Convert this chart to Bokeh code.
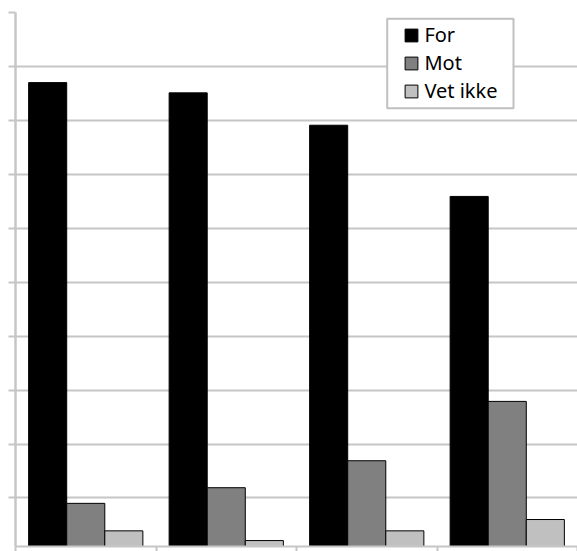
from bokeh.plotting import figure
from bokeh.models import (Range1d, FixedTicker, Legend, LegendItem, BoxAnnotation,
                          ColumnDataSource, CustomLabelingPolicy)
from bokeh.embed import file_html
from bokeh.resources import INLINE

# ---- data ----
category_index = [0, 1, 2, 3]
series_names = ["For", "Mot", "Vet ikke"]
for_vals = [86.0, 84.1, 78.1, 64.9]
mot_vals = [8.0, 10.9, 15.9, 26.9]
vet_vals = [2.9, 1.1, 2.9, 5.0]
grid_ticks = [9, 19, 29, 39, 49, 59, 69, 79, 89, 99]
category_edges = [0, 1, 2, 3, 4]

series_values = [for_vals, mot_vals, vet_vals]
series_colors = ["#000000", "#808080", "#c0c0c0"]
offsets = [-0.271, 0.0, 0.271]
bar_w = 0.271

GRID = "#c6c6c6"

p = figure(width=577, height=551, output_backend="svg", toolbar_location=None,
           x_range=Range1d(0, 4), y_range=Range1d(0, 99),
           min_border_left=15, min_border_top=12, min_border_right=0, min_border_bottom=0)
p.outline_line_color = None
p.background_fill_color = "white"
p.border_fill_color = "white"

renderers = []
for vals, col, off in zip(series_values, series_colors, offsets):
    src = ColumnDataSource(dict(x=[i + 0.5 + off for i in category_index], top=vals))
    r = p.vbar(x="x", top="top", bottom=0, width=bar_w, source=src,
               fill_color=col, line_color="#000000", line_width=1)
    renderers.append(r)

# y axis / grid
p.yaxis.ticker = FixedTicker(ticks=grid_ticks)
p.yaxis.major_label_policy = CustomLabelingPolicy(code="return []")
p.yaxis.major_label_text_font_size = "0px"
p.yaxis.major_label_standoff = 0
p.yaxis.major_tick_out = 7
p.yaxis.major_tick_in = 0
p.yaxis.minor_tick_line_color = None
p.yaxis.axis_line_color = GRID
p.yaxis.axis_line_width = 2.5
p.yaxis.major_tick_line_color = GRID
p.yaxis.major_tick_line_width = 2
p.ygrid.ticker = FixedTicker(ticks=grid_ticks)
p.ygrid.grid_line_color = GRID
p.ygrid.grid_line_width = 2
p.xgrid.grid_line_color = None

# x axis
p.xaxis.ticker = FixedTicker(ticks=category_edges)
p.xaxis.major_label_policy = CustomLabelingPolicy(code="return []")
p.xaxis.major_label_text_font_size = "0px"
p.xaxis.major_label_standoff = 0
p.xaxis.major_tick_out = 5
p.xaxis.major_tick_in = 0
p.xaxis.minor_tick_line_color = None
p.xaxis.axis_line_color = GRID
p.xaxis.axis_line_width = 2
p.xaxis.major_tick_line_color = GRID
p.xaxis.major_tick_line_width = 2

# legend frame
box = BoxAnnotation(left=371.7, right=498, top=527.7, bottom=438.3,
                    left_units="screen", right_units="screen",
                    top_units="screen", bottom_units="screen",
                    fill_color="white", fill_alpha=1.0,
                    line_color="#c0c0c0", line_width=2, line_alpha=1.0,
                    level="annotation")
p.add_layout(box)

legend = Legend(items=[LegendItem(label=n, renderers=[r]) for n, r in zip(series_names, renderers)],
                location=(388.4, 441.8), padding=0, margin=0, spacing=1,
                glyph_width=16, glyph_height=16, label_height=27, label_standoff=5,
                label_text_font="Noto Sans", label_text_font_size="20px",
                label_text_color="#000000",
                border_line_color=None, background_fill_alpha=0.0)
p.add_layout(legend)

open("out.html", "w").write(file_html(p, INLINE))
